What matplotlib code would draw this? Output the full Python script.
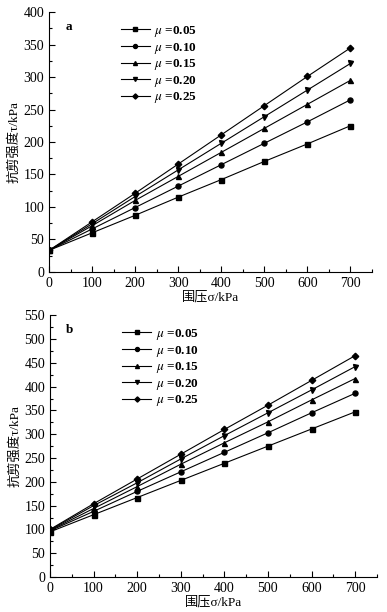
import numpy as np
import matplotlib
matplotlib.use("Agg")
import matplotlib.pyplot as plt
from matplotlib.ticker import MultipleLocator

plt.rcParams['font.family'] = ['Liberation Serif', 'Noto Sans CJK SC']
plt.rcParams['mathtext.fontset'] = 'stix'

sigma = [0, 100, 200, 300, 400, 500, 600, 700]
mu_labels = ["0.05", "0.10", "0.15", "0.20", "0.25"]
markers = ["s", "o", "^", "v", "D"]

tau_a_005 = [33, 60, 87, 115, 142, 170, 197, 225]
tau_a_010 = [33, 66, 99, 132, 165, 198, 231, 265]
tau_a_015 = [33, 71, 110, 147, 184, 221, 258, 295]
tau_a_020 = [33, 74, 116, 157, 198, 239, 280, 321]
tau_a_025 = [33, 77, 121, 166, 211, 256, 301, 345]

tau_b_005 = [95, 131, 167, 203, 239, 275, 311, 347]
tau_b_010 = [97, 138, 180, 221, 262, 303, 345, 386]
tau_b_015 = [98, 144, 190, 237, 282, 326, 372, 417]
tau_b_020 = [99, 150, 198, 248, 297, 345, 393, 442]
tau_b_025 = [100, 154, 206, 258, 310, 361, 413, 465]

panels = [
    ("a", [tau_a_005, tau_a_010, tau_a_015, tau_a_020, tau_a_025], 400, [0.127, 0.556, 0.834, 0.424]),
    ("b", [tau_b_005, tau_b_010, tau_b_015, tau_b_020, tau_b_025], 550, [0.129, 0.057, 0.845, 0.428]),
]

fig = plt.figure(figsize=(3.87, 6.12), dpi=100)

for name, series, ymax, pos in panels:
    ax = fig.add_axes(pos)
    for vals, lab, m in zip(series, mu_labels, markers):
        ms = 3.3 if m == "D" else 3.6
        ax.plot(sigma, vals, color="black", lw=0.8, marker=m, ms=ms,
                label=r"$\mu$ =" + lab)
    ax.set_xlim(0, 750)
    ax.set_ylim(0, ymax)
    ax.xaxis.set_major_locator(MultipleLocator(100))
    ax.xaxis.set_minor_locator(MultipleLocator(50))
    ax.yaxis.set_major_locator(MultipleLocator(50))
    ax.yaxis.set_minor_locator(MultipleLocator(25))
    ax.tick_params(which="both", direction="in", labelsize=10, width=0.8)
    ax.tick_params(which="major", length=4)
    ax.tick_params(which="minor", length=2.5)
    ax.spines["top"].set_visible(False)
    ax.spines["right"].set_visible(False)
    ax.set_xlabel("围压σ/kPa", fontsize=9.5, labelpad=1)
    ax.set_ylabel("抗剪强度τ/kPa", fontsize=9.5, labelpad=2)
    ax.text(0.05, 0.965, name, transform=ax.transAxes, fontsize=9.5,
            fontweight="bold", va="top")
    ax.legend(loc="upper left", bbox_to_anchor=(0.205, 0.975), frameon=False,
              prop={"size": 9.5, "weight": "bold"}, handlelength=2.2,
              handletextpad=0.35, labelspacing=0.12, borderaxespad=0,
              markerscale=0.8)

fig.savefig("out.png", dpi=100)
